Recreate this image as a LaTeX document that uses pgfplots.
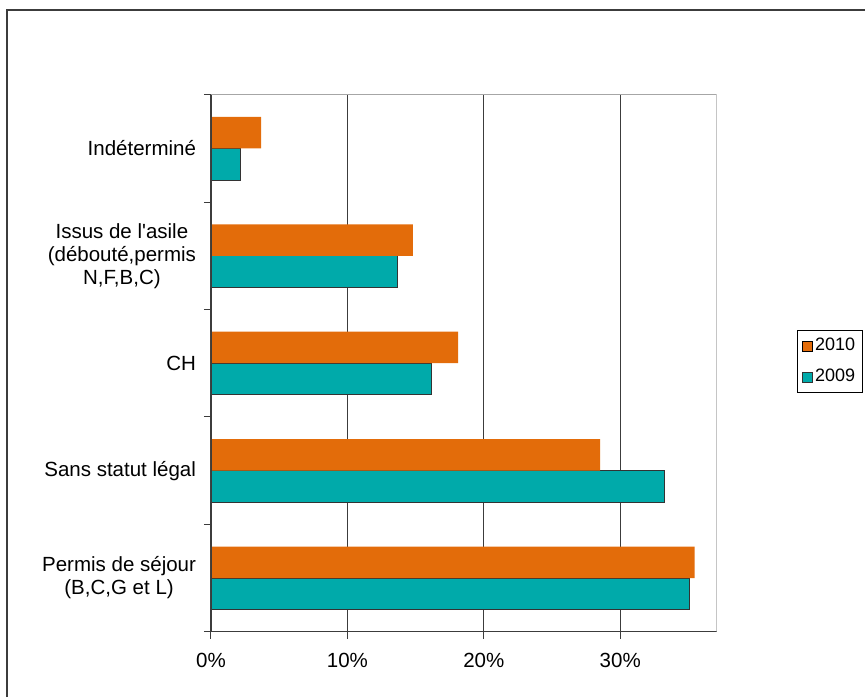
\documentclass[border=0pt]{standalone}
\usepackage{pgfplots}
\pgfplotsset{compat=1.18}
\usepackage{fontspec}
\setmainfont{Liberation Sans}
\definecolor{orng}{RGB}{227,108,10}
\definecolor{teal2}{RGB}{0,170,170}
\definecolor{gridc}{RGB}{60,60,60}
\begin{document}
\fontsize{20.5pt}{23pt}\selectfont
\begin{tikzpicture}[font=\fontsize{20.5pt}{23pt}\selectfont]
\useasboundingbox (0,0) rectangle (865pt,697pt);
\draw[line width=1.5pt, color=gridc] (7pt,0) -- (7pt,687pt) -- (865pt,687pt);
\begin{axis}[
  at={(211pt,65.3pt)}, anchor=south west,
  scale only axis, width=505.7pt, height=537pt,
  xbar, bar width=31.5pt,
  xmin=0, xmax=37.07, ymin=-0.5, ymax=4.5,
  /pgf/number format/assume math mode=true,
  tick pos=left,
  xtick={0,10,20,30}, xticklabels={0\%,10\%,20\%,30\%},
  xmajorgrids, grid style={gridc, line width=1pt},
  tick align=outside, major tick length=7pt,
  tick style={gridc, line width=1pt},
  ytick={-0.5,0.5,1.5,2.5,3.5,4.5}, yticklabels={},
  extra y ticks={0,1,2,3,4},
  extra y tick labels={{Permis de séjour\\(B,C,G et L)},{Sans statut légal},{CH},{Issus de l\textquotesingle asile\\(débouté,permis\\N,F,B,C)},{Indéterminé}},
  extra y tick style={major tick length=0pt, yticklabel style={align=center, xshift=-8pt}},
  ticklabel style={font=\fontsize{20.5pt}{23pt}\selectfont},
  xticklabel style={yshift=-7pt},
  axis line style={draw=none},
  legend style={at={(rel axis cs:1.1588,0.5618)}, anchor=north west, draw=black, line width=0.8pt, font=\fontsize{18pt}{21pt}\selectfont, row sep=11pt, inner xsep=5pt, inner ysep=6pt},
  legend cell align=left,
  reverse legend,
  legend image code/.code={\draw[#1, line width=0.6pt] (1pt,-5pt) rectangle (11pt,5pt);},
]
\addplot[fill=teal2, draw=black!80, line width=0.8pt, bar shift=-15.75pt] coordinates {(35.04,0) (33.26,1) (16.18,2) (13.66,3) (2.17,4)};
\addlegendentry{2009}
\addplot[fill=orng, draw=none, bar shift=15.75pt] coordinates {(35.45,0) (28.52,1) (18.11,2) (14.79,3) (3.67,4)};
\addlegendentry{2010}
\draw[gray!70, line width=1pt] (rel axis cs:0,1) -- (rel axis cs:1,1) -- (rel axis cs:1,0);
\draw[gridc, line width=1.2pt] (rel axis cs:0,1) -- (rel axis cs:0,0) -- (rel axis cs:1,0);
\end{axis}
\end{tikzpicture}
\end{document}
